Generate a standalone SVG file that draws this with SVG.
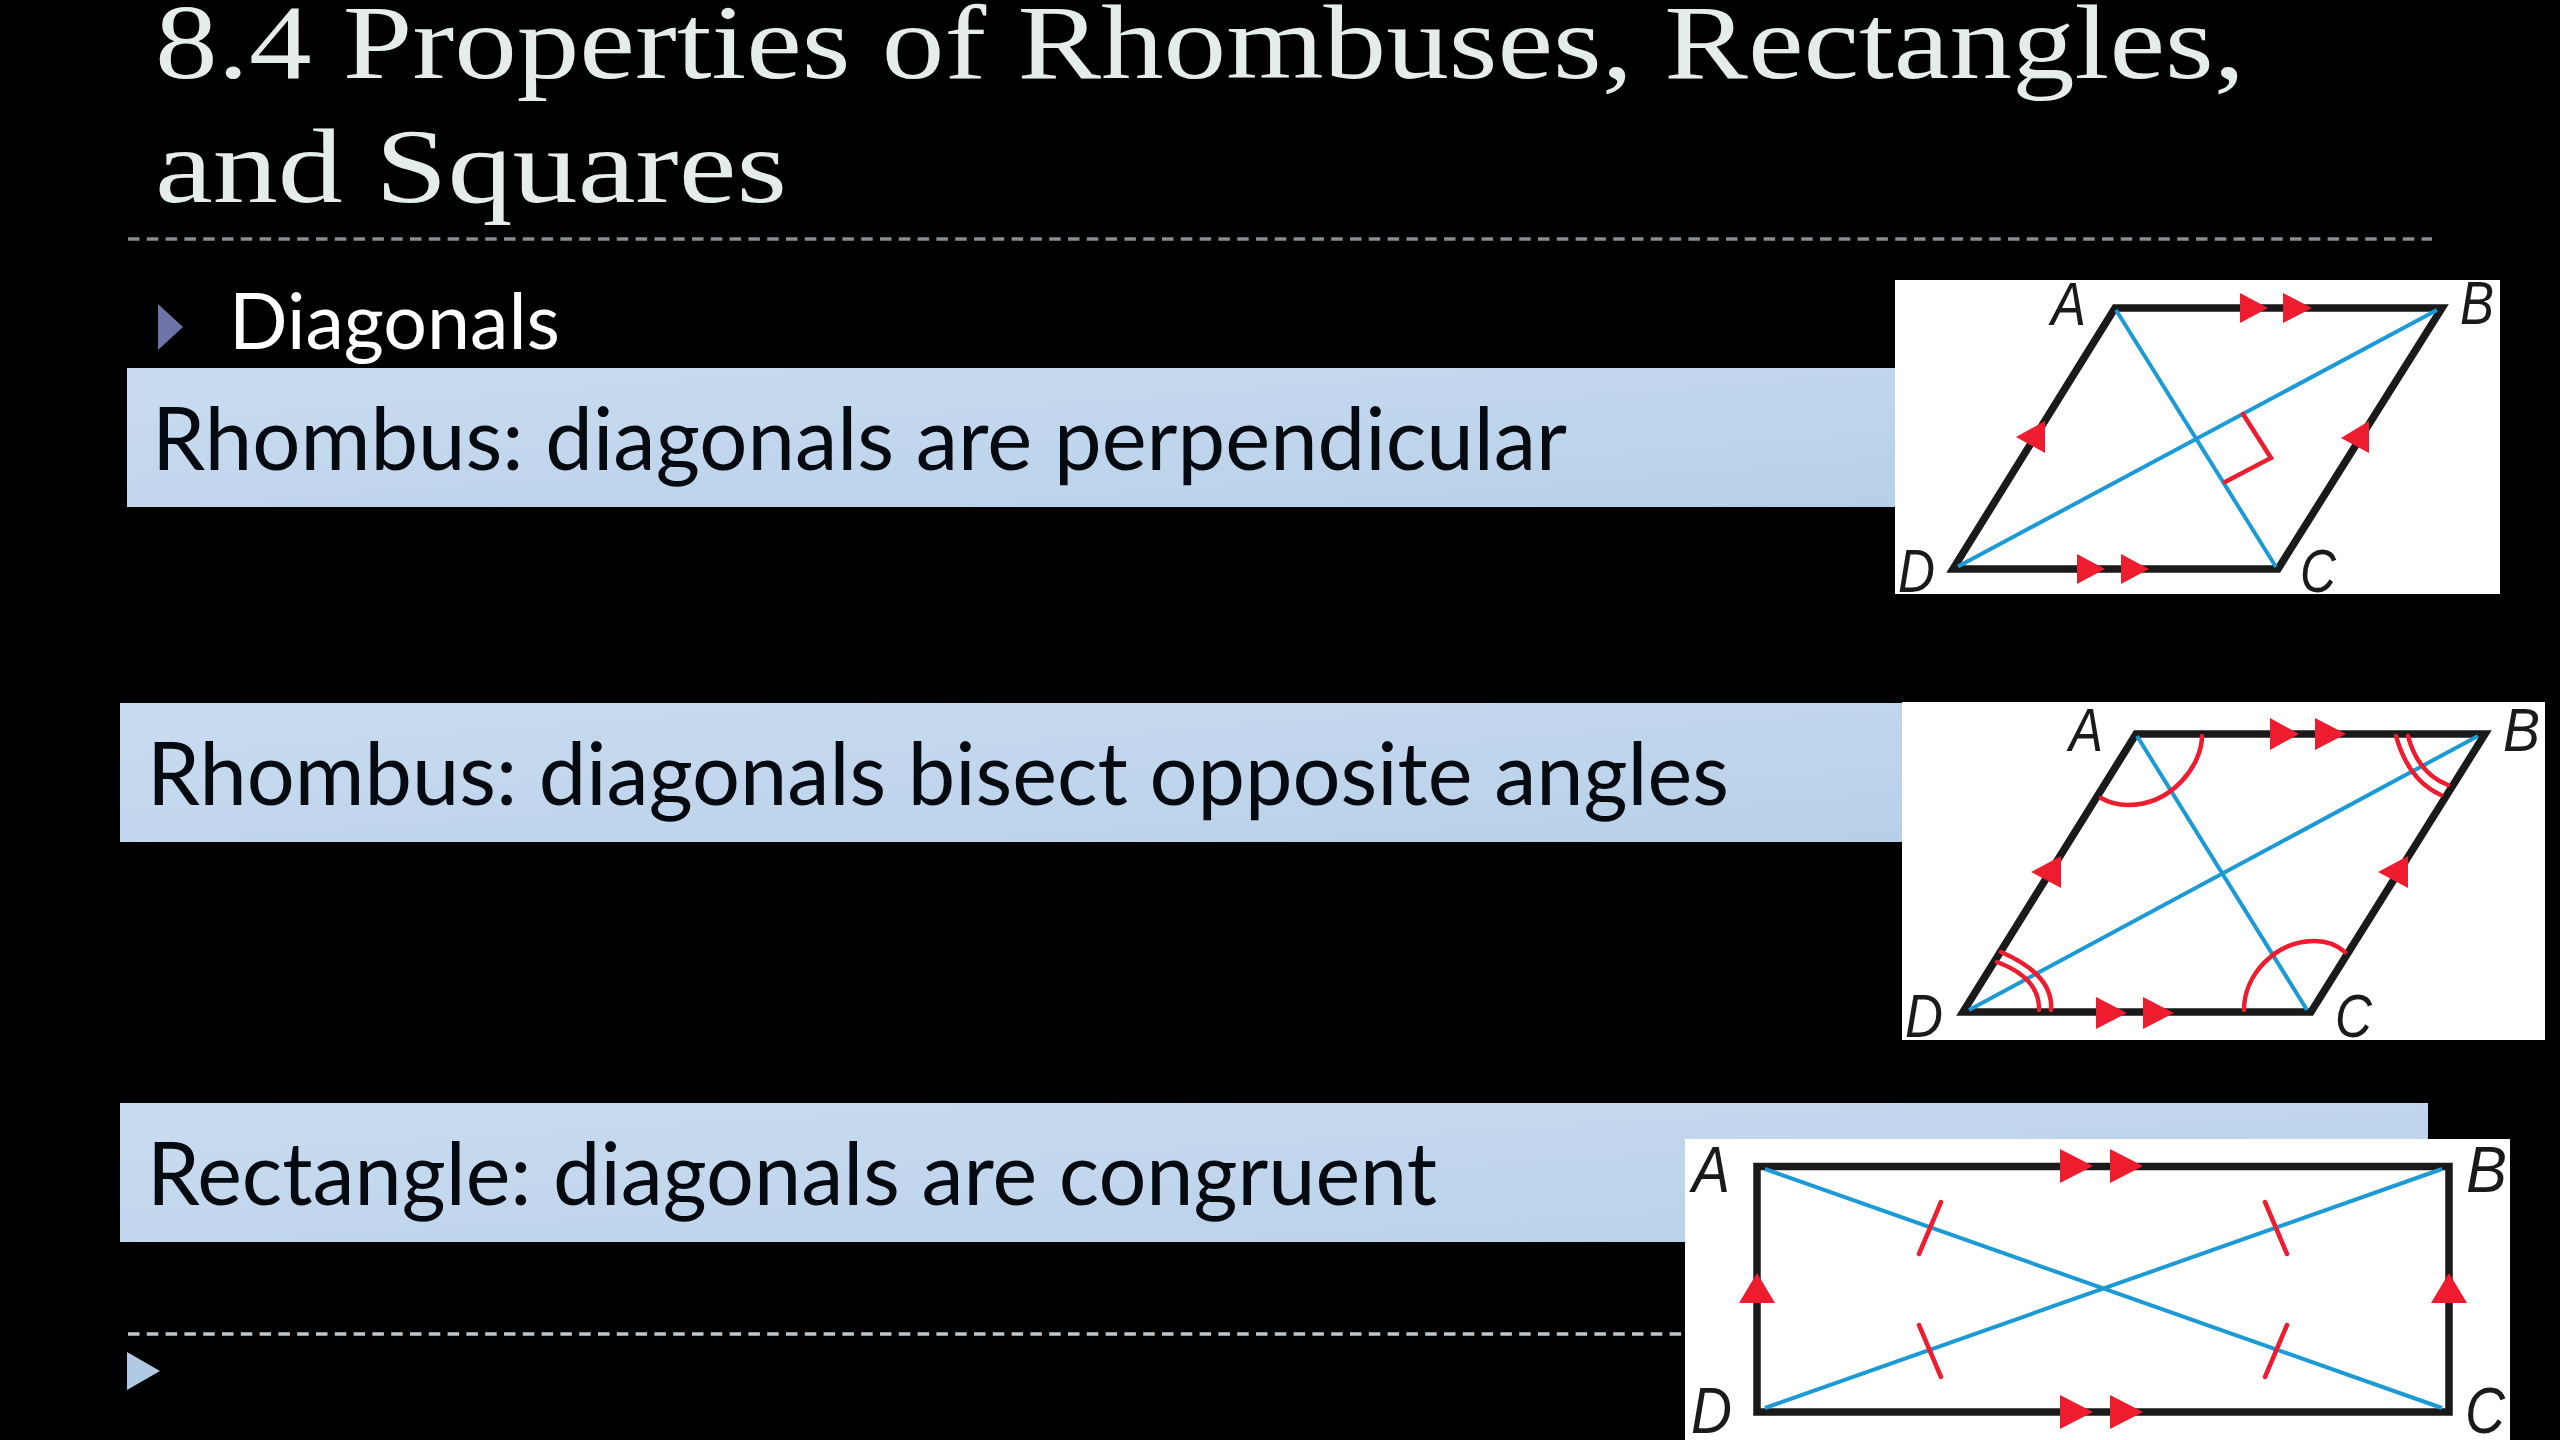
<svg xmlns="http://www.w3.org/2000/svg" width="2560" height="1440" viewBox="0 0 2560 1440">
<style>
.title{font-family:"Liberation Serif","DejaVu Serif",serif;font-size:106px;fill:#e4ecec}
.bar-text{font-family:Lato,"Open Sans",sans-serif;font-size:88px;fill:#050a10}
.bar{fill:url(#barGrad)}
.paper{fill:#fff}
.edge{fill:none;stroke:#1a1a1a;stroke-width:7.5;stroke-linejoin:miter}
.diag{fill:none;stroke:#1c9ad6;stroke-width:4}
.mark{fill:none;stroke:#ed1c2e;stroke-width:4.5;stroke-linecap:round}
.arrow{fill:#ed1c2e}
.lab{font-family:"Liberation Sans",Arial,sans-serif;font-style:italic;font-size:62px;fill:#1a1a1a}
.lab-lg{font-size:65px}
.rule{stroke-width:3.5;stroke-dasharray:11.500 7.300;fill:none}
</style>
<defs>
<linearGradient id="barGrad" x1="0" y1="0" x2="1" y2="1"><stop offset="0" stop-color="#cadcf0"/><stop offset="1" stop-color="#b7d0e8"/></linearGradient>
</defs>
<rect width="2560" height="1440" fill="#000"/>
<g id="title">
<text class="title" x="155" y="78" textLength="2090" lengthAdjust="spacingAndGlyphs">8.4 Properties of Rhombuses, Rectangles,</text>
<text class="title" x="155" y="202" textLength="632" lengthAdjust="spacingAndGlyphs">and Squares</text>
</g>
<path class="rule" stroke="#838d92" d="M128 239H2432"/>
<path class="rule" stroke="#bcc8d0" d="M128 1334H1690"/>
<g id="bullet">
<polygon points="158,304 183,327 158,350" fill="#6f74a8"/>
<text x="229" y="349" font-family="Lato,'Open Sans',sans-serif" font-size="78" fill="#fff" textLength="331" lengthAdjust="spacingAndGlyphs">Diagonals</text>
</g>
<polygon id="end-bullet" points="127,1352 160,1371 127,1390" fill="#afcae2"/>
<g id="bar-1"><rect class="bar" x="127" y="368" width="1768" height="139"/>
<text class="bar-text" x="152" y="470" textLength="1415" lengthAdjust="spacingAndGlyphs">Rhombus: diagonals are perpendicular</text></g>
<g id="bar-2"><rect class="bar" x="120" y="703" width="1782" height="139"/>
<text class="bar-text" x="147" y="805" textLength="1582" lengthAdjust="spacingAndGlyphs">Rhombus: diagonals bisect opposite angles</text></g>
<g id="bar-3"><rect class="bar" x="120" y="1103" width="2308" height="139"/>
<text class="bar-text" x="147" y="1205" textLength="1290" lengthAdjust="spacingAndGlyphs">Rectangle: diagonals are congruent</text></g>
<g id="figure-1">
<rect class="paper" x="1895" y="280" width="605" height="314"/>
<polygon class="edge" points="2115,308 2442,308 2278,569 1953,569"/>
<path class="diag" d="M2116 310L2276 567M1958 566.500L2437 310"/>
<path class="mark" d="M2243 414L2271 458L2225 482"/>
<polygon class="arrow" points="2240,293 2268,308 2240,323"/><polygon class="arrow" points="2283,293 2312,308 2283,323"/>
<polygon class="arrow" points="2077,554 2105,569 2077,584"/><polygon class="arrow" points="2121,554 2149,569 2121,584"/>
<polygon class="arrow" points="2045,421 2016,437 2045,453"/><polygon class="arrow" points="2369,421 2341,438 2369,453"/>
<text class="lab" x="2051" y="325" textLength="35" lengthAdjust="spacingAndGlyphs">A</text><text class="lab" x="2460" y="324" textLength="34" lengthAdjust="spacingAndGlyphs">B</text><text class="lab" x="1898" y="592" textLength="37" lengthAdjust="spacingAndGlyphs">D</text><text class="lab" x="2300" y="592" textLength="36" lengthAdjust="spacingAndGlyphs">C</text>
</g>
<g id="figure-2">
<rect class="paper" x="1902" y="702" width="643" height="338"/>
<polygon class="edge" points="2136,734 2485,734 2311,1012 1963,1012"/>
<path class="diag" d="M2137 736L2307 1010M1969 1010L2478 736"/>
<path class="mark" d="M2202 736C2202 765 2172 805 2128 805Q2113 805 2101 798M2244 1010C2244 975 2275 941 2315 941Q2332 941 2345 952M2396 736Q2408.500 780.500 2441 795M2408 736Q2418 773.500 2448 785M2001 952Q2054 975 2051 1010M1997 962Q2040 978 2039 1010"/>
<polygon class="arrow" points="2270,718 2299,734 2270,750"/><polygon class="arrow" points="2315,718 2346,734 2315,750"/>
<polygon class="arrow" points="2096,997 2127,1013 2096,1029"/><polygon class="arrow" points="2143,997 2174,1013 2143,1029"/>
<polygon class="arrow" points="2061,856 2031,872 2061,888"/><polygon class="arrow" points="2408,856 2378,872 2408,888"/>
<text class="lab" x="2069" y="751" textLength="34" lengthAdjust="spacingAndGlyphs">A</text><text class="lab" x="2503" y="751" textLength="37" lengthAdjust="spacingAndGlyphs">B</text><text class="lab" x="1905" y="1037" textLength="38" lengthAdjust="spacingAndGlyphs">D</text><text class="lab" x="2335" y="1037" textLength="37" lengthAdjust="spacingAndGlyphs">C</text>
</g>
<g id="figure-3">
<rect class="paper" x="1685" y="1139" width="825" height="301"/>
<rect class="edge" x="1757" y="1166.500" width="692" height="245.500"/>
<path class="diag" d="M1765 1169L2442 1408M1765 1408L2442 1169"/>
<path class="mark" d="M1941 1202L1919 1254M2265 1202L2287 1254M1919 1325L1941 1377M2287 1325L2265 1377"/>
<polygon class="arrow" points="2060,1149 2093,1166 2060,1183"/><polygon class="arrow" points="2110,1149 2143,1166 2110,1183"/>
<polygon class="arrow" points="2060,1395 2093,1412 2060,1429"/><polygon class="arrow" points="2110,1395 2143,1412 2110,1429"/>
<polygon class="arrow" points="1757,1273 1775,1303 1739,1303"/><polygon class="arrow" points="2449,1273 2467,1303 2431,1303"/>
<text class="lab lab-lg" x="1692" y="1192" textLength="38" lengthAdjust="spacingAndGlyphs">A</text><text class="lab lab-lg" x="2466" y="1192" textLength="41" lengthAdjust="spacingAndGlyphs">B</text><text class="lab lab-lg" x="1691" y="1433" textLength="41" lengthAdjust="spacingAndGlyphs">D</text><text class="lab lab-lg" x="2465" y="1433" textLength="40" lengthAdjust="spacingAndGlyphs">C</text>
</g>
</svg>
